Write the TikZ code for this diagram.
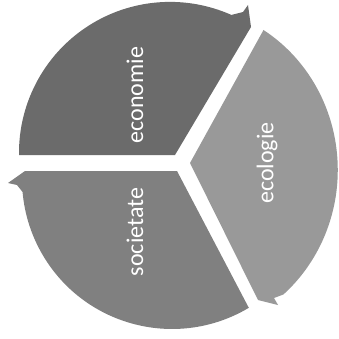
\documentclass[tikz,border=0pt]{standalone}
\usepackage{fontspec}
\setmainfont{Carlito}
\usepackage{tikz}

\begin{document}
\begin{tikzpicture}[x=1pt,y=1pt,
    segtext/.style={text=white,rotate=90,font=\fontsize{24}{28}\selectfont}]
  \useasboundingbox (0,0) rectangle (339,338);
  % economie, head at the top right
  \fill[black!58] (175,183) -- (19,183)
    arc[start angle=180.8,end angle=66,radius=151]
    -- (243,326) -- (248,333) -- (251,311) -- cycle;
  % ecologie, head at the bottom
  \fill[black!40] (190,175) -- (263.5,308)
    arc[start angle=58,end angle=-49,x radius=158,y radius=165]
    -- (274,40) -- (278,33) -- (258,38) -- cycle;
  % societate, head at the left
  \fill[black!50] (177,167) -- (248.8,30.2)
    arc[start angle=300.8,end angle=185,radius=150]
    -- (17,153) -- (8,155) -- (25,167) -- cycle;
  \node[segtext] (econ) at (135,243) {economie};
  \node[segtext] (ecol) at (267,175) {ecologie};
  \node[segtext] (soc) at (135,106) {societate};
\end{tikzpicture}
\end{document}
